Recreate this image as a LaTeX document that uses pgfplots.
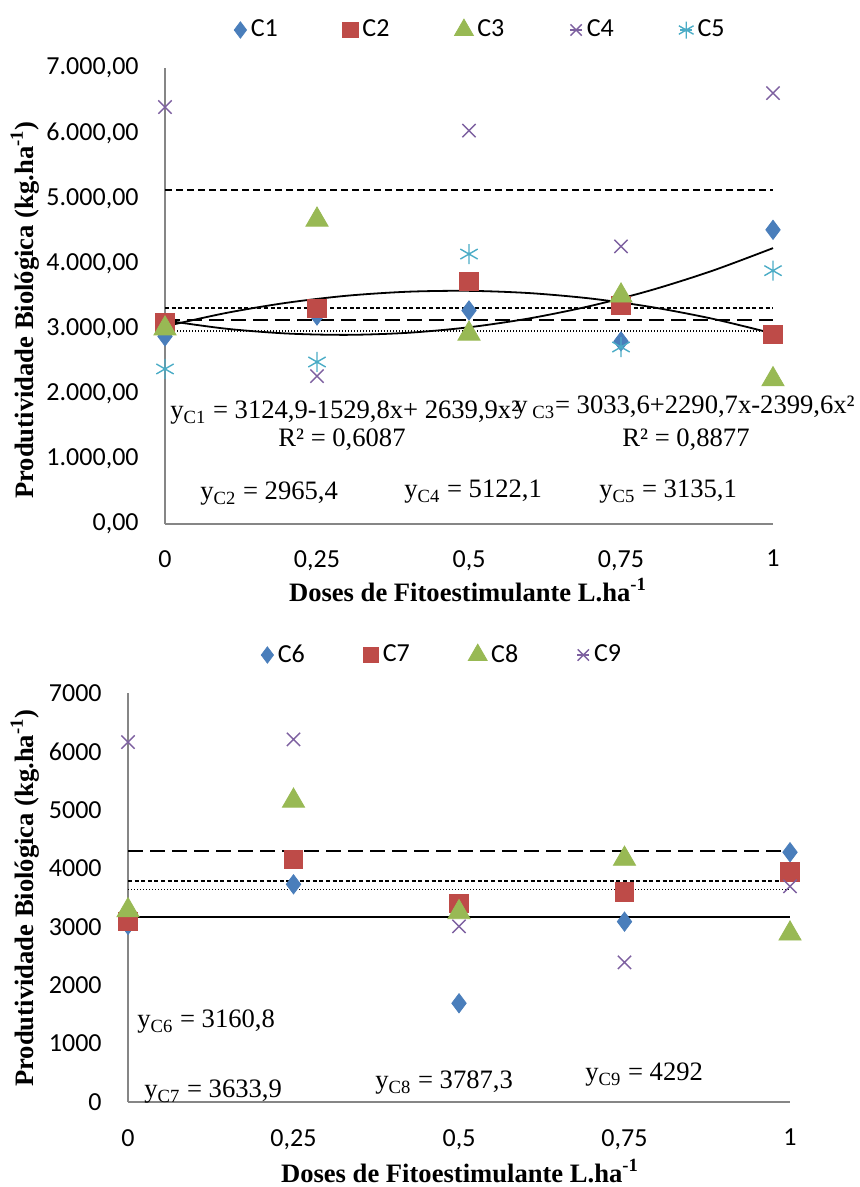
\documentclass[border=0pt]{standalone}
\usepackage{fontspec}
\setmainfont{Liberation Serif}
\newfontfamily\carlito{Carlito}
\usepackage{pgfplots}
\pgfplotsset{compat=1.18}

\definecolor{cA}{HTML}{4A7EBB}
\definecolor{cB}{HTML}{BE4B48}
\definecolor{cC}{HTML}{98B954}
\definecolor{cD}{HTML}{7D60A0}
\definecolor{cE}{HTML}{4BACC6}
\definecolor{axgray}{HTML}{868686}

\newcommand{\tickfont}{\carlito\fontsize{13}{15}\selectfont}
\newcommand{\eqfont}{\fontsize{13.3}{15}\selectfont}

\pgfplotsset{
  base/.style={
    scale only axis, xmin=0, xmax=1, ymin=0, ymax=7000,
    axis lines*=left,
    axis line style={draw=axgray, line width=0.8pt, -},
    major tick length=0pt, clip=false,
    xtick={0,0.25,0.5,0.75,1},
    xticklabels={0,{0,25},{0,5},{0,75},1},
    ytick={0,1000,2000,3000,4000,5000,6000,7000},
    tick label style={font=\tickfont, inner sep=0pt},
    yticklabel style={xshift=-13pt},
    legend columns=-1,
    legend image code/.code={
      \path (0pt,0pt) -- (6pt,0pt);
      \draw[mark repeat=2,mark phase=2,##1] plot coordinates {(0pt,0pt)(3pt,0pt)(6pt,0pt)};},
    legend image post style={mark options={scale=0.85}},
  },
  sA/.style={only marks, mark=diamond*, mark size=4.8pt, color=cA},
  sB/.style={only marks, mark=square*, mark size=4.6pt, color=cB},
  sC/.style={only marks, mark=triangle*, mark size=6.4pt, color=cC},
  sD/.style={only marks, mark=x, mark size=4.7pt, color=cD, line width=0.7pt},
  sE/.style={only marks, mark=asterisk, mark size=5pt, color=cE, line width=0.7pt},
  hl/.style={black, line width=1pt, forget plot},
}

\begin{document}
\begin{tikzpicture}
\path[use as bounding box] (0,0) rectangle (430pt,-593.5pt);

% ---------------- top chart ----------------
\begin{axis}[base,
  at={(82.5pt,-262pt)}, anchor=south west,
  width=304pt, height=228pt,
  yticklabels={{0,00},{1.000,00},{2.000,00},{3.000,00},{4.000,00},{5.000,00},{6.000,00},{7.000,00}},
  xticklabel style={yshift=-12.9pt},
  legend style={draw=none, fill=none, inner sep=0pt, outer sep=0pt,
    font=\tickfont, at={(0.1135,1.0833)}, anchor=west,
    /tikz/every even column/.append style={column sep=30.5pt}},
]
\addplot[sA] coordinates {(0,2880)(0.25,3200)(0.5,3278)(0.75,2804)(1,4516)};
\addlegendentry{C1}
\addplot[sB] coordinates {(0,3086)(0.25,3313)(0.5,3721)(0.75,3354)(1,2906)};
\addlegendentry{C2}
\addplot[sC] coordinates {(0,3000)(0.25,4670)(0.5,2920)(0.75,3505)(1,2220)};
\addlegendentry{C3}
\addplot[sD] coordinates {(0,6401)(0.25,2270)(0.5,6039)(0.75,4261)(1,6615)};
\addlegendentry{C4}
\addplot[sE] coordinates {(0,2380)(0.25,2487)(0.5,4144)(0.75,2717)(1,3889)};
\addlegendentry{C5}
% mean lines
\addplot[hl, dash pattern=on 3.5pt off 2pt] coordinates {(0,5122.1)(1,5122.1)};
\addplot[hl, dash pattern=on 2pt off 1.3pt] coordinates {(0,3315)(1,3315)};
\addplot[hl, dash pattern=on 7.5pt off 3.5pt] coordinates {(0,3135.1)(1,3135.1)};
\addplot[hl, line width=0.8pt, dash pattern=on 0.6pt off 0.9pt] coordinates {(0,2965.4)(1,2965.4)};
% quadratic trend lines (tabulated values)
\addplot[black, line width=0.9pt, smooth, forget plot] coordinates {
 (0,3124.9)(0.1,2998.3)(0.2,2924.5)(0.3,2903.6)(0.4,2935.4)(0.5,3020.0)
 (0.6,3157.4)(0.7,3347.6)(0.8,3590.6)(0.9,3886.4)(1,4235.0)};
\addplot[black, line width=0.9pt, smooth, forget plot] coordinates {
 (0,3033.6)(0.1,3238.7)(0.2,3395.8)(0.3,3504.9)(0.4,3565.9)(0.5,3579.1)
 (0.6,3544.2)(0.7,3461.3)(0.8,3330.4)(0.9,3151.6)(1,2924.7)};
\end{axis}

% ---------------- bottom chart ----------------
\begin{axis}[base,
  at={(64pt,-551pt)}, anchor=south west,
  width=331pt, height=204.5pt,
  yticklabels={0,1000,2000,3000,4000,5000,6000,7000},
  xticklabel style={yshift=-13.4pt},
  legend style={draw=none, fill=none, inner sep=0pt, outer sep=0pt,
    font=\tickfont, at={(0.2009,1.0929)}, anchor=west,
    /tikz/every even column/.append style={column sep=27.2pt}},
]
\addplot[sA] coordinates {(0,3030)(0.25,3726)(0.5,1690)(0.75,3087)(1,4275)};
\addlegendentry{C6}
\addplot[sB] coordinates {(0,3087)(0.25,4149)(0.5,3395)(0.75,3595)(1,3938)};
\addlegendentry{C7}
\addplot[sC] coordinates {(0,3280)(0.25,5155)(0.5,3247)(0.75,4161)(1,2881)};
\addlegendentry{C8}
\addplot[sD] coordinates {(0,6161)(0.25,6206)(0.5,3007)(0.75,2390)(1,3692)};
\addlegendentry{C9}
\addplot[hl, dash pattern=on 7.5pt off 3.5pt] coordinates {(0,4292)(1,4292)};
\addplot[hl, dash pattern=on 2pt off 1.3pt] coordinates {(0,3787.3)(1,3787.3)};
\addplot[hl, line width=0.8pt, dash pattern=on 0.6pt off 0.9pt] coordinates {(0,3633.9)(1,3633.9)};
\addplot[hl] coordinates {(0,3160.8)(1,3160.8)};
\end{axis}

% ---------------- texts (pixel coordinates) ----------------
\begin{scope}[x=0.5pt, y=-0.5pt]
\begin{scope}[every node/.style={inner sep=0pt, font=\eqfont}]
\node[anchor=west] at (170,413) {y\textsubscript{C1} = 3124,9-1529,8x+ 2639,9x²};
\node[anchor=west] at (514,408) {y\textsubscript{ C3}= 3033,6+2290,7x-2399,6x²};
\node[anchor=west] at (278,440) {R² = 0,6087};
\node[anchor=west] at (622,440) {R² = 0,8877};
\node[anchor=west] at (200,494) {y\textsubscript{C2} = 2965,4};
\node[anchor=west] at (404,492) {y\textsubscript{C4} = 5122,1};
\node[anchor=west] at (599,492) {y\textsubscript{C5} = 3135,1};
\node[anchor=west] at (137,1022) {y\textsubscript{C6} = 3160,8};
\node[anchor=west] at (144,1092) {y\textsubscript{C7} = 3633,9};
\node[anchor=west] at (375,1083) {y\textsubscript{C8} = 3787,3};
\node[anchor=west] at (585,1075) {y\textsubscript{C9} = 4292};
\end{scope}
\begin{scope}[every node/.style={inner sep=0pt, font=\bfseries\eqfont}]
\node at (468,590) {Doses de Fitoestimulante L.ha\textsuperscript{-1}};
\node at (460,1171) {Doses de Fitoestimulante L.ha\textsuperscript{-1}};
\node[rotate=90] at (25,310) {Produtividade Biológica (kg.ha\textsuperscript{-1})};
\node[rotate=90] at (25,898) {Produtividade Biológica (kg.ha\textsuperscript{-1})};
\end{scope}
\end{scope}
\end{tikzpicture}
\end{document}
